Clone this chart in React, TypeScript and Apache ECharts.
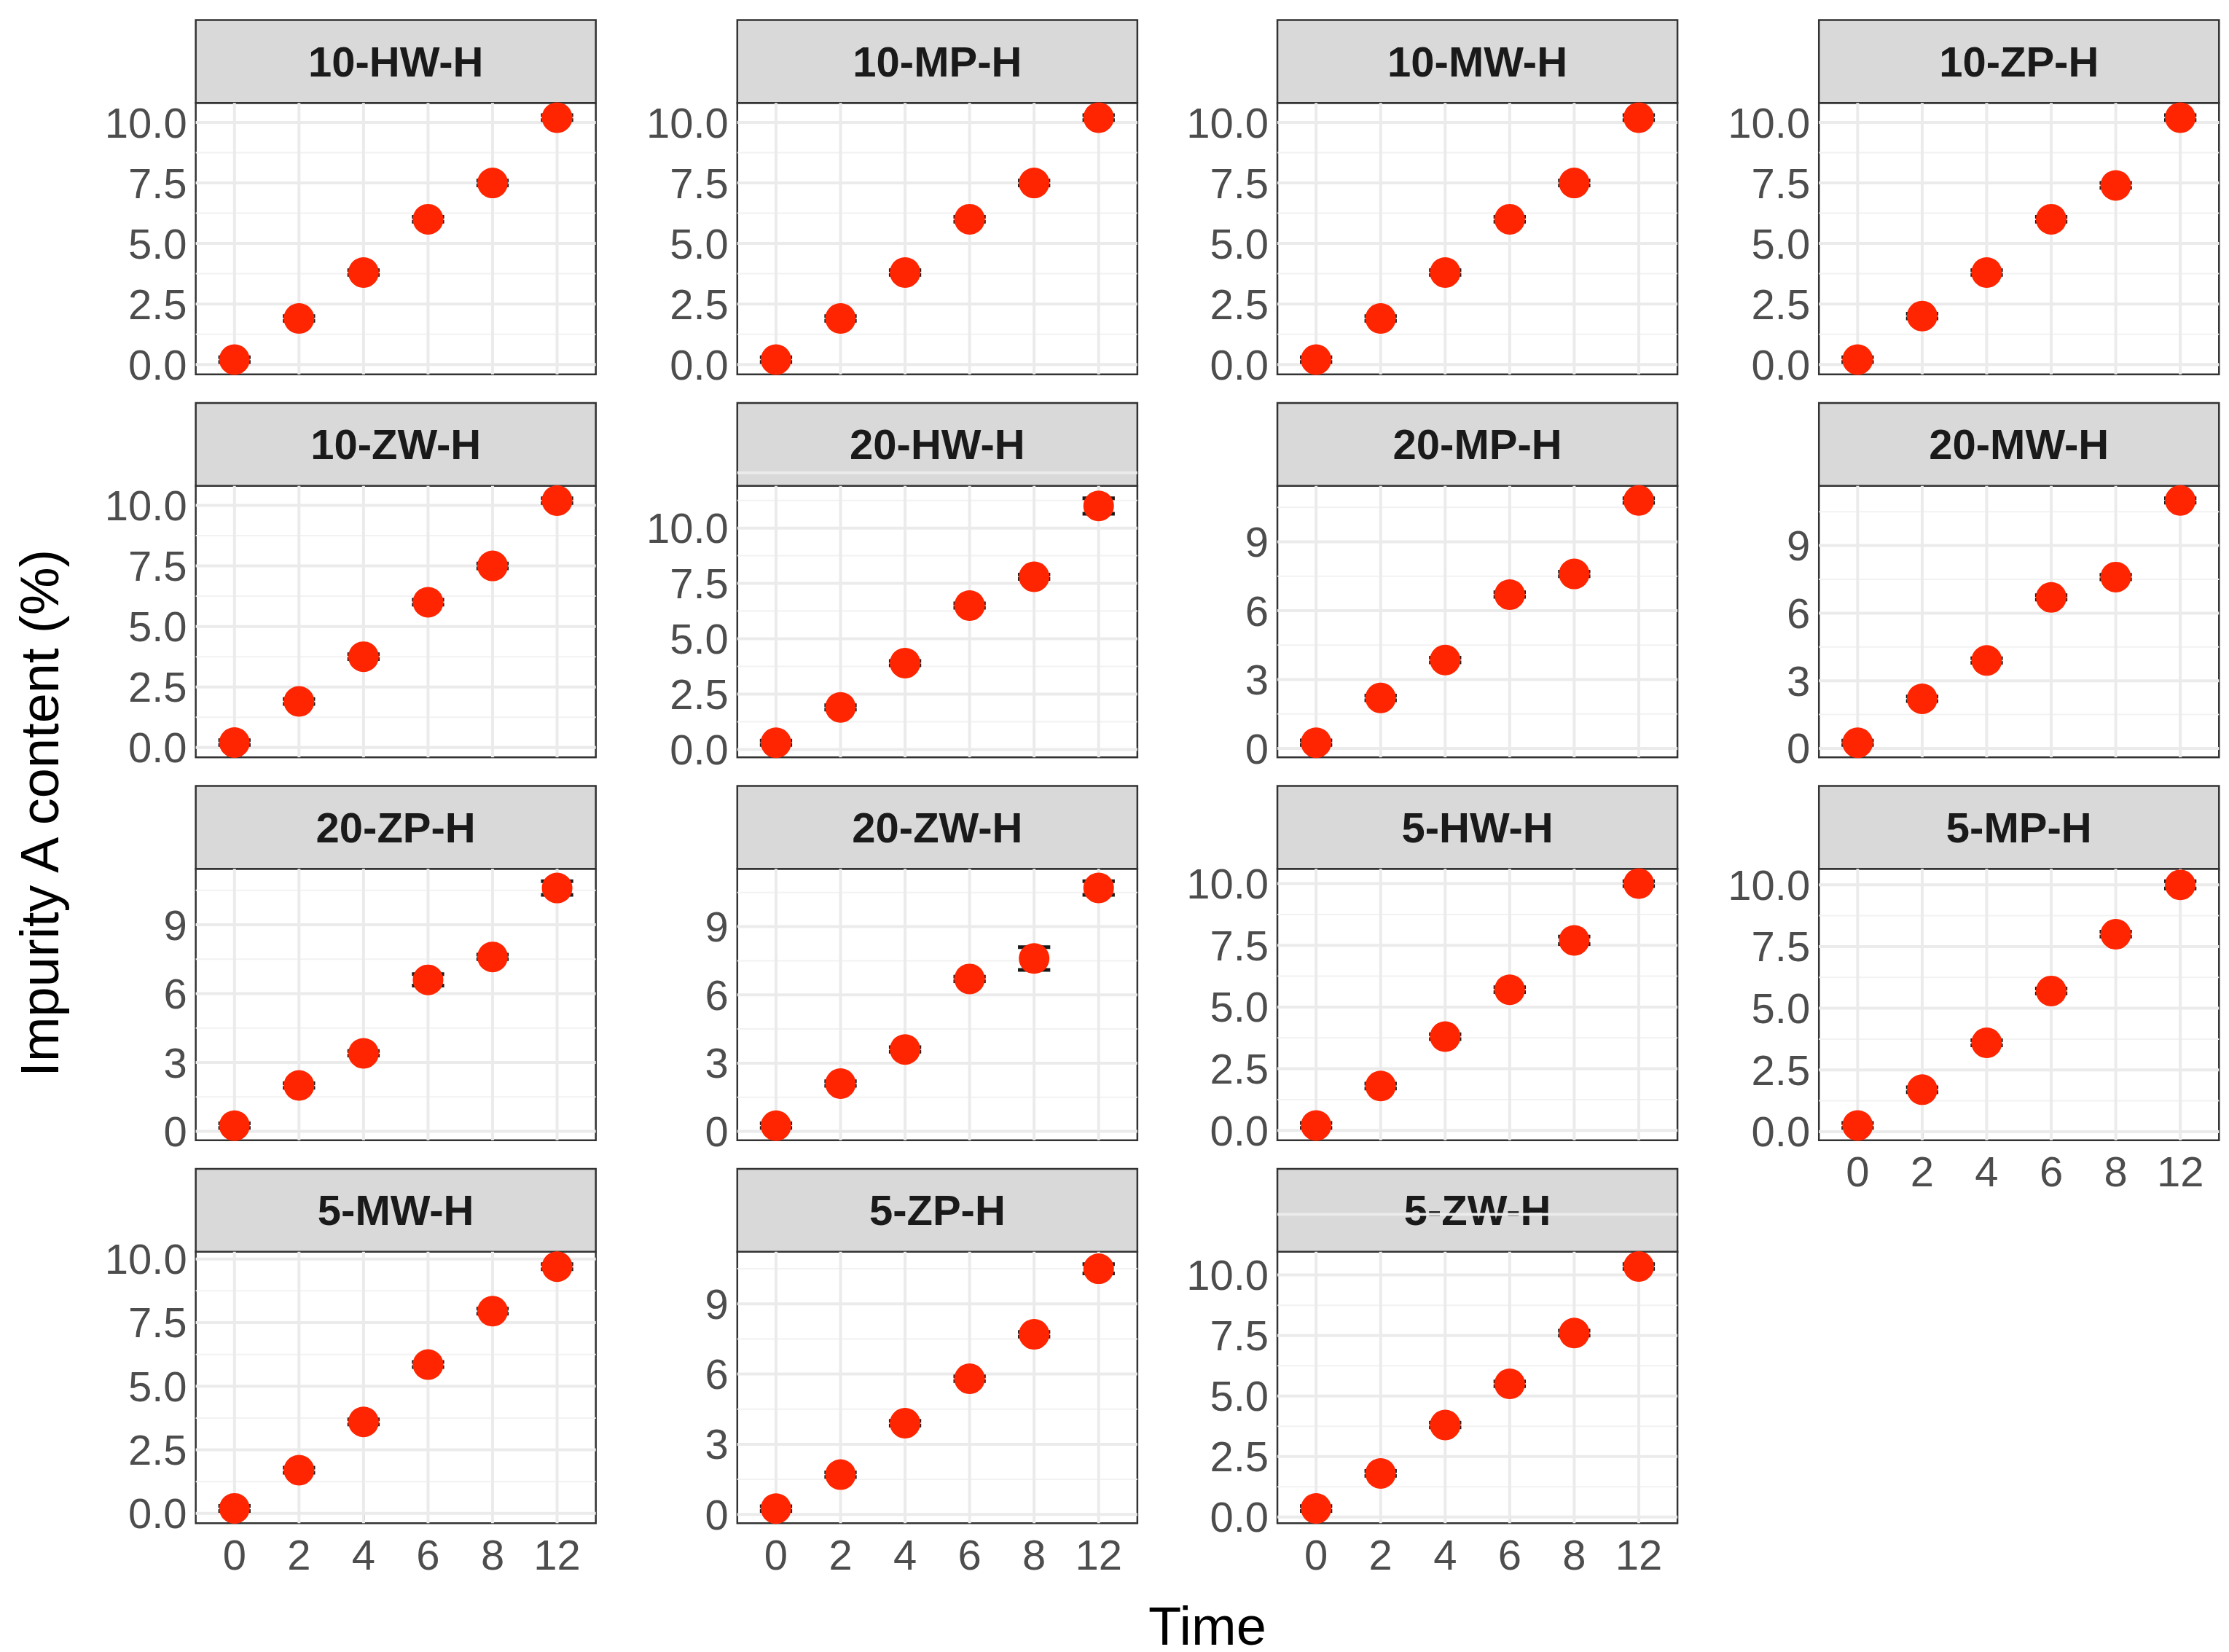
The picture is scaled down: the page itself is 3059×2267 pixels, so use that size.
import { useEffect, useRef } from "react"
import * as echarts from "echarts"

// time points (categorical)
const times = ["0", "2", "4", "6", "8", "12"]

const panelNames = [
  "10-HW-H", "10-MP-H", "10-MW-H", "10-ZP-H",
  "10-ZW-H", "20-HW-H", "20-MP-H", "20-MW-H",
  "20-ZP-H", "20-ZW-H", "5-HW-H", "5-MP-H",
  "5-MW-H", "5-ZP-H", "5-ZW-H",
]

// mean impurity A content (%) per panel
const means = [
  [0.2, 1.9, 3.8, 6.0, 7.5, 10.2],
  [0.2, 1.9, 3.8, 6.0, 7.5, 10.2],
  [0.2, 1.9, 3.8, 6.0, 7.5, 10.2],
  [0.2, 2.0, 3.8, 6.0, 7.4, 10.2],
  [0.2, 1.9, 3.75, 6.0, 7.5, 10.2],
  [0.3, 1.9, 3.9, 6.5, 7.8, 11.0],
  [0.25, 2.2, 3.85, 6.7, 7.6, 10.8],
  [0.25, 2.2, 3.9, 6.7, 7.6, 11.0],
  [0.25, 2.0, 3.4, 6.6, 7.6, 10.6],
  [0.25, 2.1, 3.6, 6.7, 7.6, 10.7],
  [0.2, 1.8, 3.8, 5.7, 7.7, 10.0],
  [0.25, 1.7, 3.6, 5.7, 8.0, 10.0],
  [0.2, 1.7, 3.6, 5.85, 7.95, 9.7],
  [0.25, 1.7, 3.9, 5.8, 7.7, 10.5],
  [0.35, 1.8, 3.8, 5.5, 7.6, 10.35],
]

// error bar half-widths
const errors = [
  [0.1, 0.1, 0.1, 0.1, 0.1, 0.1],
  [0.1, 0.1, 0.1, 0.1, 0.1, 0.1],
  [0.1, 0.1, 0.1, 0.1, 0.1, 0.1],
  [0.1, 0.1, 0.1, 0.1, 0.1, 0.1],
  [0.1, 0.1, 0.1, 0.1, 0.1, 0.1],
  [0.1, 0.1, 0.1, 0.1, 0.1, 0.35],
  [0.1, 0.1, 0.1, 0.1, 0.1, 0.1],
  [0.1, 0.1, 0.1, 0.1, 0.1, 0.1],
  [0.1, 0.1, 0.1, 0.25, 0.1, 0.3],
  [0.1, 0.1, 0.1, 0.1, 0.5, 0.3],
  [0.1, 0.1, 0.1, 0.1, 0.15, 0.1],
  [0.1, 0.1, 0.1, 0.1, 0.1, 0.15],
  [0.1, 0.1, 0.1, 0.1, 0.1, 0.1],
  [0.1, 0.1, 0.1, 0.1, 0.1, 0.2],
  [0.1, 0.1, 0.1, 0.1, 0.1, 0.1],
]

// y tick labels per panel
const ticksA = [0, 2.5, 5, 7.5, 10]
const ticksB = [0, 2.5, 5, 7.5, 10, 12.5]
const ticksC = [0, 3, 6, 9]
const panelTicks = [
  ticksA, ticksA, ticksA, ticksA,
  ticksA, ticksB, ticksC, ticksC,
  ticksC, ticksC, ticksA, ticksA,
  ticksA, ticksC, ticksB,
]

const S = 3059 / 1560
const colLeft = [137, 516, 894, 1273]
const rowTop = [14, 282, 550, 818]
const PW = 280
const STRIP = 58
const PH = 190

export default function App() {
  const ref = useRef<HTMLDivElement>(null)

  useEffect(() => {
    document.body.style.margin = "0"
    if (!ref.current) return
    const chart = echarts.init(ref.current, null, { renderer: "svg" })
    const font = "'Liberation Sans', Arial, sans-serif"

    const grids: any[] = []
    const xAxes: any[] = []
    const yAxes: any[] = []
    const series: any[] = []
    const graphics: any[] = []

    panelNames.forEach((name, i) => {
      const r = Math.floor(i / 4)
      const c = i % 4
      const left = colLeft[c] * S
      const top = (rowTop[r] + STRIP) * S
      const showX = r === 3 || i === 11
      const ticks = panelTicks[i]
      const lo = Math.min(...means[i].map((v, k) => v - errors[i][k]))
      const hi = Math.max(...means[i].map((v, k) => v + errors[i][k]))
      const pad = (hi - lo) * 0.05
      const ymin = lo - pad
      const ymax = hi + pad
      const step = ticks[1] - ticks[0]
      const minors: number[] = []
      for (let t = ticks[0] - step / 2; t <= ymax; t += step) {
        if (t >= ymin) minors.push(t)
      }
      const dec = step === 2.5

      grids.push({
        left, top, width: PW * S, height: PH * S,
        show: true, borderColor: "#333333", borderWidth: 2.5, backgroundColor: "#ffffff",
      })
      xAxes.push({
        gridIndex: i, type: "value", min: -0.6, max: 5.6,
        axisLine: { show: false }, splitLine: { show: false },
        axisTick: { show: showX, customValues: [0, 1, 2, 3, 4, 5], length: 9, lineStyle: { color: "#333333", width: 3 } },
        axisLabel: {
          show: showX, customValues: [0, 1, 2, 3, 4, 5], margin: 14,
          formatter: (v: number) => times[Math.round(v)],
          fontSize: 58, color: "#4d4d4d", fontFamily: font,
        },
      })
      yAxes.push({
        gridIndex: i, type: "value", min: ymin, max: ymax,
        axisLine: { show: false }, splitLine: { show: false },
        axisTick: { show: true, customValues: ticks, length: 9, lineStyle: { color: "#333333", width: 3 } },
        axisLabel: {
          customValues: ticks, margin: 12,
          formatter: (v: number) => (dec ? v.toFixed(1) : String(Math.round(v))),
          fontSize: 58, color: "#4d4d4d", fontFamily: font,
        },
      })
      // grid lines, drawn under everything
      series.push({
        type: "custom", xAxisIndex: i, yAxisIndex: i, z: 1, silent: true,
        data: [[0, 0]],
        renderItem: (_p: any, api: any) => {
          const children: any[] = []
          const hline = (v: number, w: number, col: string) => {
            const a = api.coord([-0.6, v])
            const b = api.coord([5.6, v])
            children.push({ type: "line", shape: { x1: a[0], y1: a[1], x2: b[0], y2: b[1] }, style: { stroke: col, lineWidth: w } })
          }
          minors.forEach((v) => hline(v, 2, "#f2f2f2"))
          ticks.forEach((v) => hline(v, 4, "#ebebeb"))
          ;[0, 1, 2, 3, 4, 5].forEach((x) => {
            const a = api.coord([x, ymin])
            const b = api.coord([x, ymax])
            children.push({ type: "line", shape: { x1: a[0], y1: a[1], x2: b[0], y2: b[1] }, style: { stroke: "#ebebeb", lineWidth: 4 } })
          })
          return { type: "group", children }
        },
      })
      // error bars
      series.push({
        type: "custom", xAxisIndex: i, yAxisIndex: i, z: 3,
        data: means[i].map((v, k) => [k, v - errors[i][k], v + errors[i][k]]),
        renderItem: (_p: any, api: any) => {
          const x = api.value(0)
          const a = api.coord([x, api.value(1)])
          const b = api.coord([x, api.value(2)])
          const hw = api.size([0.25, 0])[0]
          const st = { stroke: "#1a1a1a", lineWidth: 5 }
          return {
            type: "group",
            children: [
              { type: "line", shape: { x1: a[0], y1: a[1], x2: b[0], y2: b[1] }, style: st },
              { type: "line", shape: { x1: a[0] - hw, y1: a[1], x2: a[0] + hw, y2: a[1] }, style: st },
              { type: "line", shape: { x1: b[0] - hw, y1: b[1], x2: b[0] + hw, y2: b[1] }, style: st },
            ],
          }
        },
      })
      series.push({
        type: "scatter", xAxisIndex: i, yAxisIndex: i, z: 5,
        data: means[i].map((v, k) => [k, v]),
        symbolSize: 42, itemStyle: { color: "#ff2500", opacity: 1, borderWidth: 0 },
      })
      // strip
      graphics.push({
        type: "rect", shape: { x: left, y: rowTop[r] * S, width: PW * S, height: STRIP * S },
        style: { fill: "#d9d9d9", stroke: "#333333", lineWidth: 2.5 },
      })
      graphics.push({
        type: "text", x: left + (PW * S) / 2, y: (rowTop[r] + STRIP / 2) * S,
        style: { text: name, fill: "#1a1a1a", font: `bold 58px ${font}`, align: "center", verticalAlign: "middle" },
      })
    })

    graphics.push({
      type: "text", x: 845 * S, y: 1138 * S,
      style: { text: "Time", fill: "#000000", font: `74px ${font}`, align: "center", verticalAlign: "middle" },
    })
    graphics.push({
      type: "text", x: 28 * S, y: 569 * S, rotation: Math.PI / 2,
      style: { text: "Impurity A content (%)", fill: "#000000", font: `74px ${font}`, align: "center", verticalAlign: "middle" },
    })

    chart.setOption({
      animation: false,
      backgroundColor: "#ffffff",
      grid: grids,
      xAxis: xAxes,
      yAxis: yAxes,
      series,
      graphic: graphics,
    })
    return () => chart.dispose()
  }, [])

  return <div ref={ref} style={{ width: 3059, height: 2267 }} />
}
